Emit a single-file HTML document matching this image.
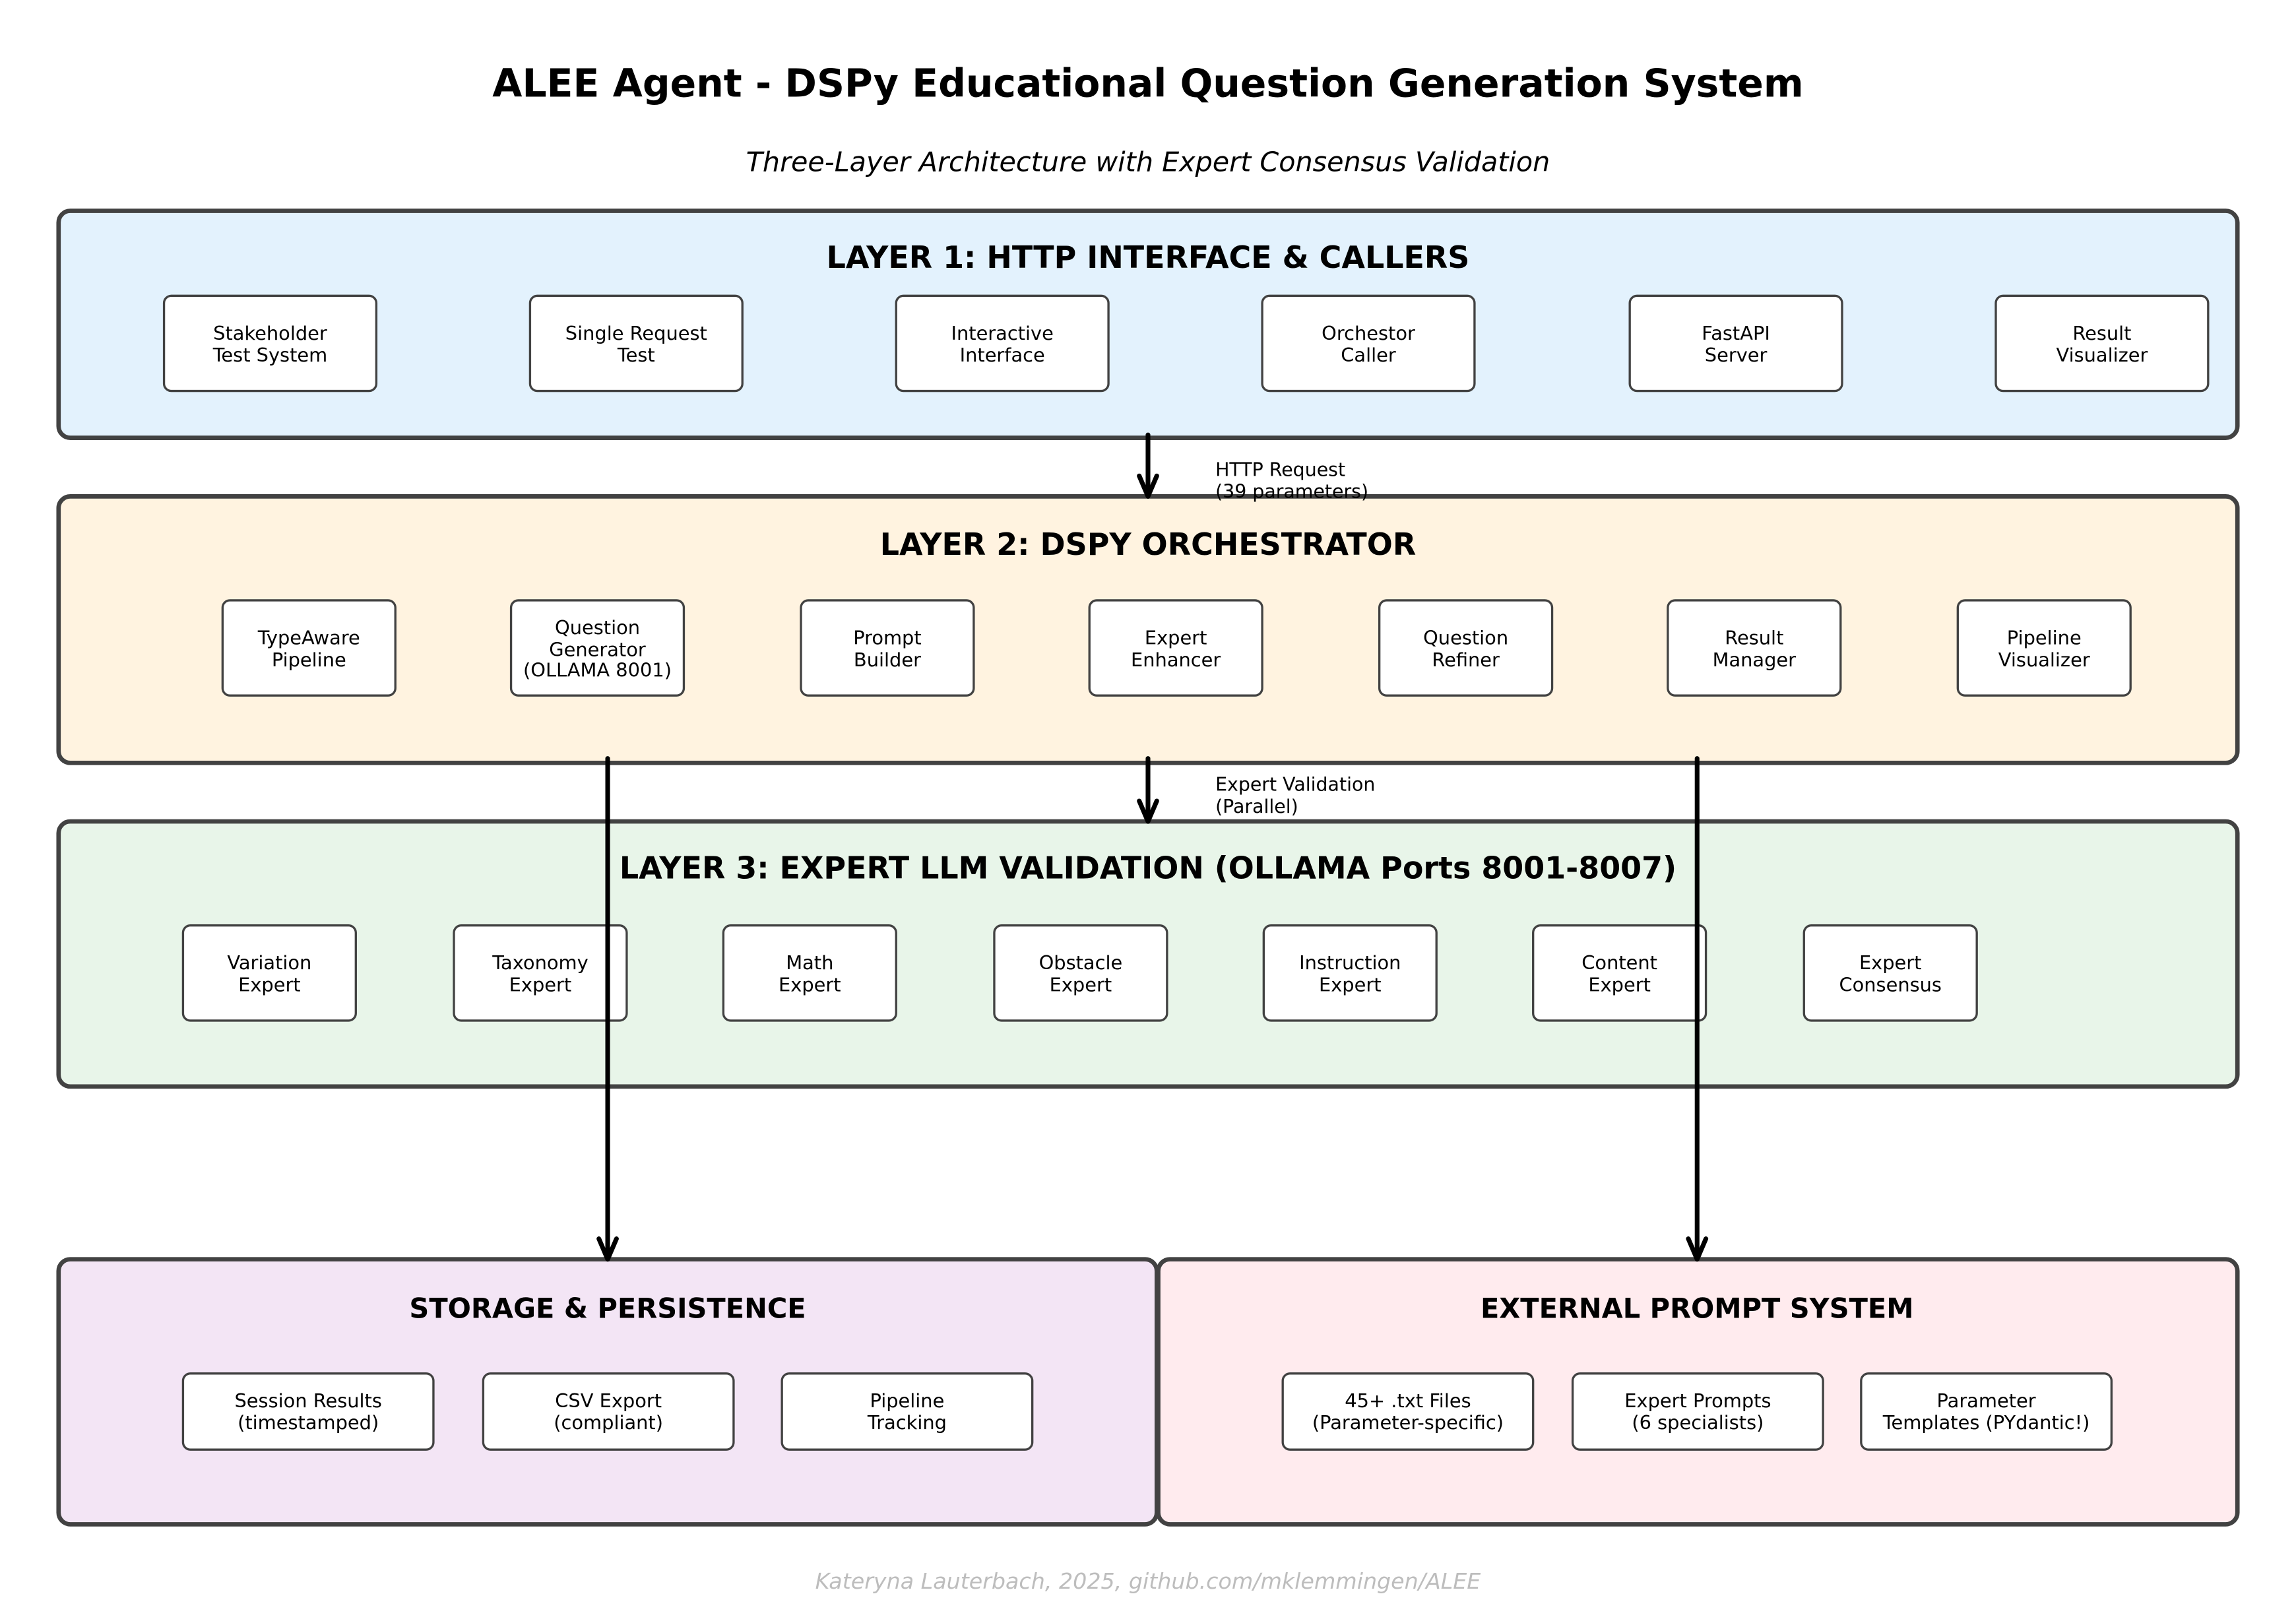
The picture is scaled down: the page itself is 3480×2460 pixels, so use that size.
<!DOCTYPE html>
<html><head><meta charset="utf-8"><style>
html,body{margin:0;padding:0;background:#fff;}
svg{display:block;}
text{font-family:"DejaVu Sans","Liberation Sans",sans-serif;fill:#000;}
.lt{font-size:20.7px;font-weight:bold;text-anchor:middle;}
.st{font-size:18.7px;font-weight:bold;text-anchor:middle;}
.nt{font-size:13px;text-anchor:middle;}
.lb{font-size:12.8px;}
.L{stroke:#424242;stroke-width:3;}
.N{fill:#fff;stroke:#424242;stroke-width:1.5;}
.A{stroke:#000;stroke-width:3.2;fill:none;stroke-linecap:round;stroke-linejoin:round;}
</style></head><body>
<svg width="3480" height="2460" viewBox="0 0 1568 1108.4" xmlns="http://www.w3.org/2000/svg">
<rect width="1568" height="1109" fill="#fff"/>
<text x="784" y="66" style="font-size:26.3px;font-weight:bold;text-anchor:middle">ALEE Agent - DSPy Educational Question Generation System</text>
<text x="784" y="117" style="font-size:18.6px;font-style:italic;text-anchor:middle">Three-Layer Architecture with Expert Consensus Validation</text>

<!-- Layer 1 -->
<rect class="L" x="40" y="144" width="1488" height="155" rx="8" fill="#e3f2fd"/>
<text class="lt" x="784" y="183">LAYER 1: HTTP INTERFACE &amp; CALLERS</text>
<g>
<rect class="N" x="112" y="202" width="145" height="65" rx="5"/><text class="nt" x="184.5" y="232">Stakeholder</text><text class="nt" x="184.5" y="247">Test System</text>
<rect class="N" x="362" y="202" width="145" height="65" rx="5"/><text class="nt" x="434.5" y="232">Single Request</text><text class="nt" x="434.5" y="247">Test</text>
<rect class="N" x="612" y="202" width="145" height="65" rx="5"/><text class="nt" x="684.5" y="232">Interactive</text><text class="nt" x="684.5" y="247">Interface</text>
<rect class="N" x="862" y="202" width="145" height="65" rx="5"/><text class="nt" x="934.5" y="232">Orchestor</text><text class="nt" x="934.5" y="247">Caller</text>
<rect class="N" x="1113" y="202" width="145" height="65" rx="5"/><text class="nt" x="1185.5" y="232">FastAPI</text><text class="nt" x="1185.5" y="247">Server</text>
<rect class="N" x="1363" y="202" width="145" height="65" rx="5"/><text class="nt" x="1435.5" y="232">Result</text><text class="nt" x="1435.5" y="247">Visualizer</text>
</g>

<!-- Layer 2 -->
<rect class="L" x="40" y="339" width="1488" height="182" rx="8" fill="#fff3e0"/>
<text class="lt" x="784" y="379">LAYER 2: DSPY ORCHESTRATOR</text>
<rect class="N" x="152" y="410" width="118" height="65" rx="5"/><text class="nt" x="211" y="440">TypeAware</text><text class="nt" x="211" y="455">Pipeline</text>
<rect class="N" x="349" y="410" width="118" height="65" rx="5"/><text class="nt" x="408" y="433">Question</text><text class="nt" x="408" y="448">Generator</text><text class="nt" x="408" y="462">(OLLAMA 8001)</text>
<rect class="N" x="547" y="410" width="118" height="65" rx="5"/><text class="nt" x="606" y="440">Prompt</text><text class="nt" x="606" y="455">Builder</text>
<rect class="N" x="744" y="410" width="118" height="65" rx="5"/><text class="nt" x="803" y="440">Expert</text><text class="nt" x="803" y="455">Enhancer</text>
<rect class="N" x="942" y="410" width="118" height="65" rx="5"/><text class="nt" x="1001" y="440">Question</text><text class="nt" x="1001" y="455">Refiner</text>
<rect class="N" x="1139" y="410" width="118" height="65" rx="5"/><text class="nt" x="1198" y="440">Result</text><text class="nt" x="1198" y="455">Manager</text>
<rect class="N" x="1337" y="410" width="118" height="65" rx="5"/><text class="nt" x="1396" y="440">Pipeline</text><text class="nt" x="1396" y="455">Visualizer</text>

<!-- Layer 3 -->
<rect class="L" x="40" y="561" width="1488" height="181" rx="8" fill="#e8f5e9"/>
<text class="lt" x="784" y="600">LAYER 3: EXPERT LLM VALIDATION (OLLAMA Ports 8001-8007)</text>
<rect class="N" x="125" y="632" width="118" height="65" rx="5"/><text class="nt" x="184" y="662">Variation</text><text class="nt" x="184" y="677">Expert</text>
<rect class="N" x="310" y="632" width="118" height="65" rx="5"/><text class="nt" x="369" y="662">Taxonomy</text><text class="nt" x="369" y="677">Expert</text>
<rect class="N" x="494" y="632" width="118" height="65" rx="5"/><text class="nt" x="553" y="662">Math</text><text class="nt" x="553" y="677">Expert</text>
<rect class="N" x="679" y="632" width="118" height="65" rx="5"/><text class="nt" x="738" y="662">Obstacle</text><text class="nt" x="738" y="677">Expert</text>
<rect class="N" x="863" y="632" width="118" height="65" rx="5"/><text class="nt" x="922" y="662">Instruction</text><text class="nt" x="922" y="677">Expert</text>
<rect class="N" x="1047" y="632" width="118" height="65" rx="5"/><text class="nt" x="1106" y="662">Content</text><text class="nt" x="1106" y="677">Expert</text>
<rect class="N" x="1232" y="632" width="118" height="65" rx="5"/><text class="nt" x="1291" y="662">Expert</text><text class="nt" x="1291" y="677">Consensus</text>

<!-- Storage -->
<rect class="L" x="40" y="860" width="750" height="181" rx="8" fill="#f3e5f5"/>
<text class="st" x="415" y="900">STORAGE &amp; PERSISTENCE</text>
<rect class="N" x="125" y="938" width="171" height="52" rx="5"/><text class="nt" x="210.5" y="961">Session Results</text><text class="nt" x="210.5" y="976">(timestamped)</text>
<rect class="N" x="330" y="938" width="171" height="52" rx="5"/><text class="nt" x="415.5" y="961">CSV Export</text><text class="nt" x="415.5" y="976">(compliant)</text>
<rect class="N" x="534" y="938" width="171" height="52" rx="5"/><text class="nt" x="619.5" y="961">Pipeline</text><text class="nt" x="619.5" y="976">Tracking</text>

<!-- External -->
<rect class="L" x="791" y="860" width="737" height="181" rx="8" fill="#ffebee"/>
<text class="st" x="1159" y="900">EXTERNAL PROMPT SYSTEM</text>
<rect class="N" x="876" y="938" width="171" height="52" rx="5"/><text class="nt" x="961.5" y="961">45+ .txt Files</text><text class="nt" x="961.5" y="976">(Parameter-specific)</text>
<rect class="N" x="1074" y="938" width="171" height="52" rx="5"/><text class="nt" x="1159.5" y="961">Expert Prompts</text><text class="nt" x="1159.5" y="976">(6 specialists)</text>
<rect class="N" x="1271" y="938" width="171" height="52" rx="5"/><text class="nt" x="1356.5" y="961">Parameter</text><text class="nt" x="1356.5" y="976">Templates (PYdantic!)</text>

<!-- Arrows -->
<path class="A" d="M784 297 L784 339 M778 325 L784 339 L790 325"/>
<text class="lb" x="830" y="325">HTTP Request</text><text class="lb" x="830" y="340">(39 parameters)</text>
<path class="A" d="M784 518 L784 561 M778 547 L784 561 L790 547"/>
<text class="lb" x="830" y="540">Expert Validation</text><text class="lb" x="830" y="555">(Parallel)</text>
<path class="A" d="M415 518 L415 860 M409 846 L415 860 L421 846"/>
<path class="A" d="M1159 518 L1159 860 M1153 846 L1159 860 L1165 846"/>

<text x="784" y="1085" style="font-size:15px;font-style:italic;text-anchor:middle;fill:#bdbdbd">Kateryna Lauterbach, 2025, github.com/mklemmingen/ALEE</text>
</svg>
</body></html>
